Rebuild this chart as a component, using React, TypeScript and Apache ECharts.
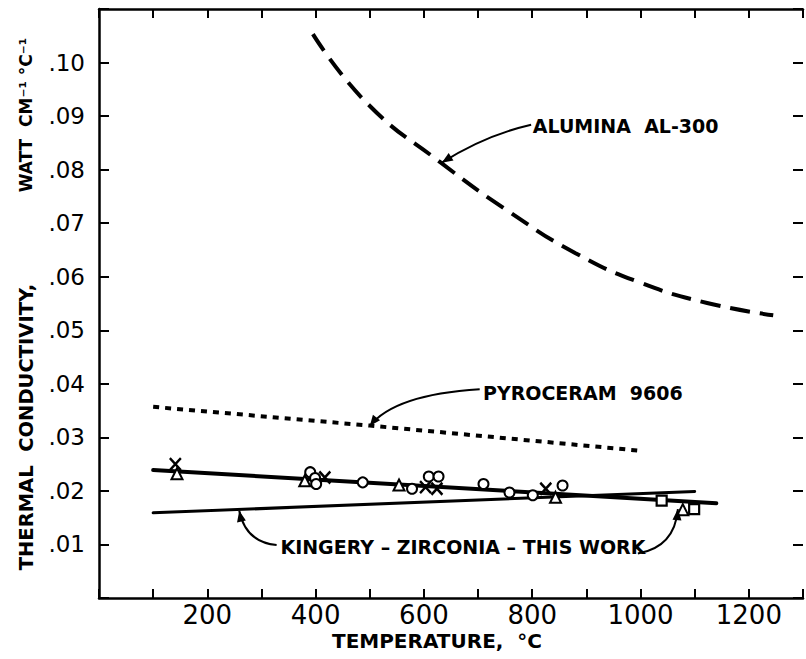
import { useEffect, useRef } from 'react';
import * as echarts from 'echarts';

// ---- data ----
const xTickLabels = ['200', '400', '600', '800', '1000', '1200'];
const yTickLabels = ['.01', '.02', '.03', '.04', '.05', '.06', '.07', '.08', '.09', '.10'];

const aluminaAL300 = [
  [395, 0.1053], [496, 0.0923], [630, 0.0814], [758, 0.0721],
  [880, 0.0644], [1002, 0.0588], [1123, 0.0551], [1245, 0.0528],
];
const pyroceram9606 = [[100, 0.0357], [500, 0.0322], [1000, 0.0275]];
const thisWorkFit = [[100, 0.0239], [1140, 0.0177]];
const kingeryZirconia = [[100, 0.0159], [1100, 0.0199]];

const crossPts = [[141, 0.025], [417, 0.0225], [603, 0.0207], [624, 0.0204], [825, 0.0204]];
const trianglePts = [[144, 0.0232], [380, 0.0219], [554, 0.0211], [843, 0.0188], [1078, 0.0165]];
const circlePts = [
  [390, 0.0235], [399, 0.0224], [401, 0.0213], [487, 0.0216], [578, 0.0204],
  [609, 0.0227], [627, 0.0227], [710, 0.0213], [758, 0.0197], [801, 0.0192], [856, 0.021],
];
const squarePts = [[1039, 0.0182], [1099, 0.0166]];

// annotation labels (anchored in data coordinates)
const annotations = [
  { text: 'ALUMINA  AL-300', at: [801, 0.0882], arrows: [{ from: [798, 0.0884], ctrl: [712, 0.0864], tip: [633, 0.0813] }] },
  { text: 'PYROCERAM  9606', at: [709, 0.0382], arrows: [{ from: [703, 0.039], ctrl: [545, 0.038], tip: [500, 0.0321] }] },
  {
    text: 'KINGERY – ZIRCONIA – THIS WORK', at: [335, 0.0096], arrows: [
      { from: [328, 0.0099], ctrl: [271, 0.0104], tip: [259, 0.0163] },
      { from: [995, 0.0083], ctrl: [1063, 0.0095], tip: [1069, 0.0166] },
    ],
  },
];

const FONT = 'DejaVu Sans';

export default function App() {
  const ref = useRef<HTMLDivElement>(null);

  useEffect(() => {
    document.body.style.margin = '0';
    const chart = echarts.init(ref.current!, null, { renderer: 'svg' });

    const xFmt = (v: number) => (v > 0 && v % 200 === 0 ? xTickLabels[v / 200 - 1] ?? '' : '');
    const yFmt = (v: number) => {
      const i = Math.round(v * 100);
      return i >= 1 && i <= 10 ? yTickLabels[i - 1] : '';
    };
    const axisLine = { show: true, onZero: false, lineStyle: { color: '#000', width: 2.5 } };
    const noLine = { show: false, onZero: false };
    const tick = (len: number) => ({ show: true, inside: true, length: len, lineStyle: { color: '#000', width: 2 } });
    const xBase = { type: 'value', min: 0, max: 1300, interval: 100, splitLine: { show: false } };
    const yBase = { type: 'value', min: 0, max: 0.11, interval: 0.01, splitLine: { show: false } };

    const lineSeries = (data: number[][], style: any) => ({
      type: 'line', data, showSymbol: false, symbol: 'none', z: 2,
      lineStyle: { color: '#000', ...style },
    });
    const scatter = (data: number[][], symbol: string, size: any, extra: any = {}) => ({
      type: 'scatter', data, symbol, symbolSize: size, z: 5,
      itemStyle: { color: '#fff', borderColor: '#000', borderWidth: 2, opacity: 1, ...extra },
    });

    chart.setOption({
      animation: false,
      backgroundColor: '#fff',
      grid: { left: 99, right: -4, top: 9, bottom: 61 },
      xAxis: [
        {
          ...xBase, position: 'bottom', axisLine, axisTick: { show: false },
          axisLabel: { formatter: xFmt, color: '#000', fontFamily: FONT, fontSize: 26, margin: 4 },
        },
        { ...xBase, position: 'top', axisLine, axisTick: tick(9), axisLabel: { show: false } },
        { ...xBase, position: 'bottom', axisLine: noLine, axisTick: tick(9), axisLabel: { show: false } },
      ],
      yAxis: [
        {
          ...yBase, position: 'left', axisLine, axisTick: { show: false },
          axisLabel: { formatter: yFmt, color: '#000', fontFamily: FONT, fontSize: 23, margin: 14 },
        },
        { ...yBase, position: 'right', axisLine: noLine, axisTick: tick(10), axisLabel: { show: false } },
        { ...yBase, position: 'left', axisLine: noLine, axisTick: tick(10), axisLabel: { show: false } },
      ],
      series: [
        { name: 'Alumina AL-300', smooth: true, ...lineSeries(aluminaAL300, { width: 4, type: [20, 10] }) },
        { name: 'Pyroceram 9606', ...lineSeries(pyroceram9606, { width: 4, type: [6, 6] }) },
        { name: 'This work', ...lineSeries(thisWorkFit, { width: 4, cap: 'round' }) },
        { name: 'Kingery zirconia', ...lineSeries(kingeryZirconia, { width: 3, cap: 'round' }) },
        { name: 'x', ...scatter(crossPts, 'path://M0,0L10,11M10,0L0,11', [11, 12], { color: 'none', borderWidth: 2.5 }) },
        { name: 'triangle', ...scatter(trianglePts, 'triangle', 11) },
        { name: 'circle', ...scatter(circlePts, 'circle', 10) },
        { name: 'square', ...scatter(squarePts, 'rect', 10, { borderWidth: 2.2 }) },
      ],
    });

    const px = (d: number[]) => chart.convertToPixel({ gridIndex: 0 }, d) as number[];
    const graphics: any[] = [];
    const textStyle = { font: `bold 19px "${FONT}"`, fill: '#000' };
    for (const a of annotations) {
      const p = px(a.at);
      graphics.push({ type: 'text', x: p[0], y: p[1], z: 10, style: { ...textStyle, text: a.text, align: 'left', verticalAlign: 'middle' } });
      for (const ar of a.arrows) {
        const f = px(ar.from), c = px(ar.ctrl), t = px(ar.tip);
        graphics.push({
          type: 'bezierCurve', z: 10,
          shape: { x1: f[0], y1: f[1], cpx1: c[0], cpy1: c[1], x2: t[0], y2: t[1] },
          style: { stroke: '#000', lineWidth: 2, fill: 'none' },
        });
        let dx = t[0] - c[0], dy = t[1] - c[1];
        const len = Math.hypot(dx, dy) || 1;
        dx /= len; dy /= len;
        const L = 11, W = 4.5;
        const bx = t[0] - dx * L, by = t[1] - dy * L;
        graphics.push({
          type: 'polygon', z: 10,
          shape: { points: [[t[0], t[1]], [bx - dy * W, by + dx * W], [bx + dy * W, by - dx * W]] },
          style: { fill: '#000' },
        });
      }
    }
    // axis titles
    graphics.push({
      type: 'text', x: 437, y: 641, z: 10,
      style: { ...textStyle, font: `bold 20px "${FONT}"`, text: 'TEMPERATURE,  °C', align: 'center', verticalAlign: 'middle' },
    });
    graphics.push({
      type: 'text', x: 26, y: 427, rotation: Math.PI / 2, z: 10,
      style: { ...textStyle, font: `bold 19.5px "${FONT}"`, text: 'THERMAL  CONDUCTIVITY,', align: 'center', verticalAlign: 'middle' },
    });
    graphics.push({
      type: 'text', x: 26, y: 115, rotation: Math.PI / 2, z: 10,
      style: { ...textStyle, font: `bold 17px "${FONT}"`, text: 'WATT  CM⁻¹ °C⁻¹', align: 'center', verticalAlign: 'middle' },
    });
    chart.setOption({ graphic: graphics });

    return () => chart.dispose();
  }, []);

  return <div ref={ref} style={{ width: 806, height: 659 }} />;
}
